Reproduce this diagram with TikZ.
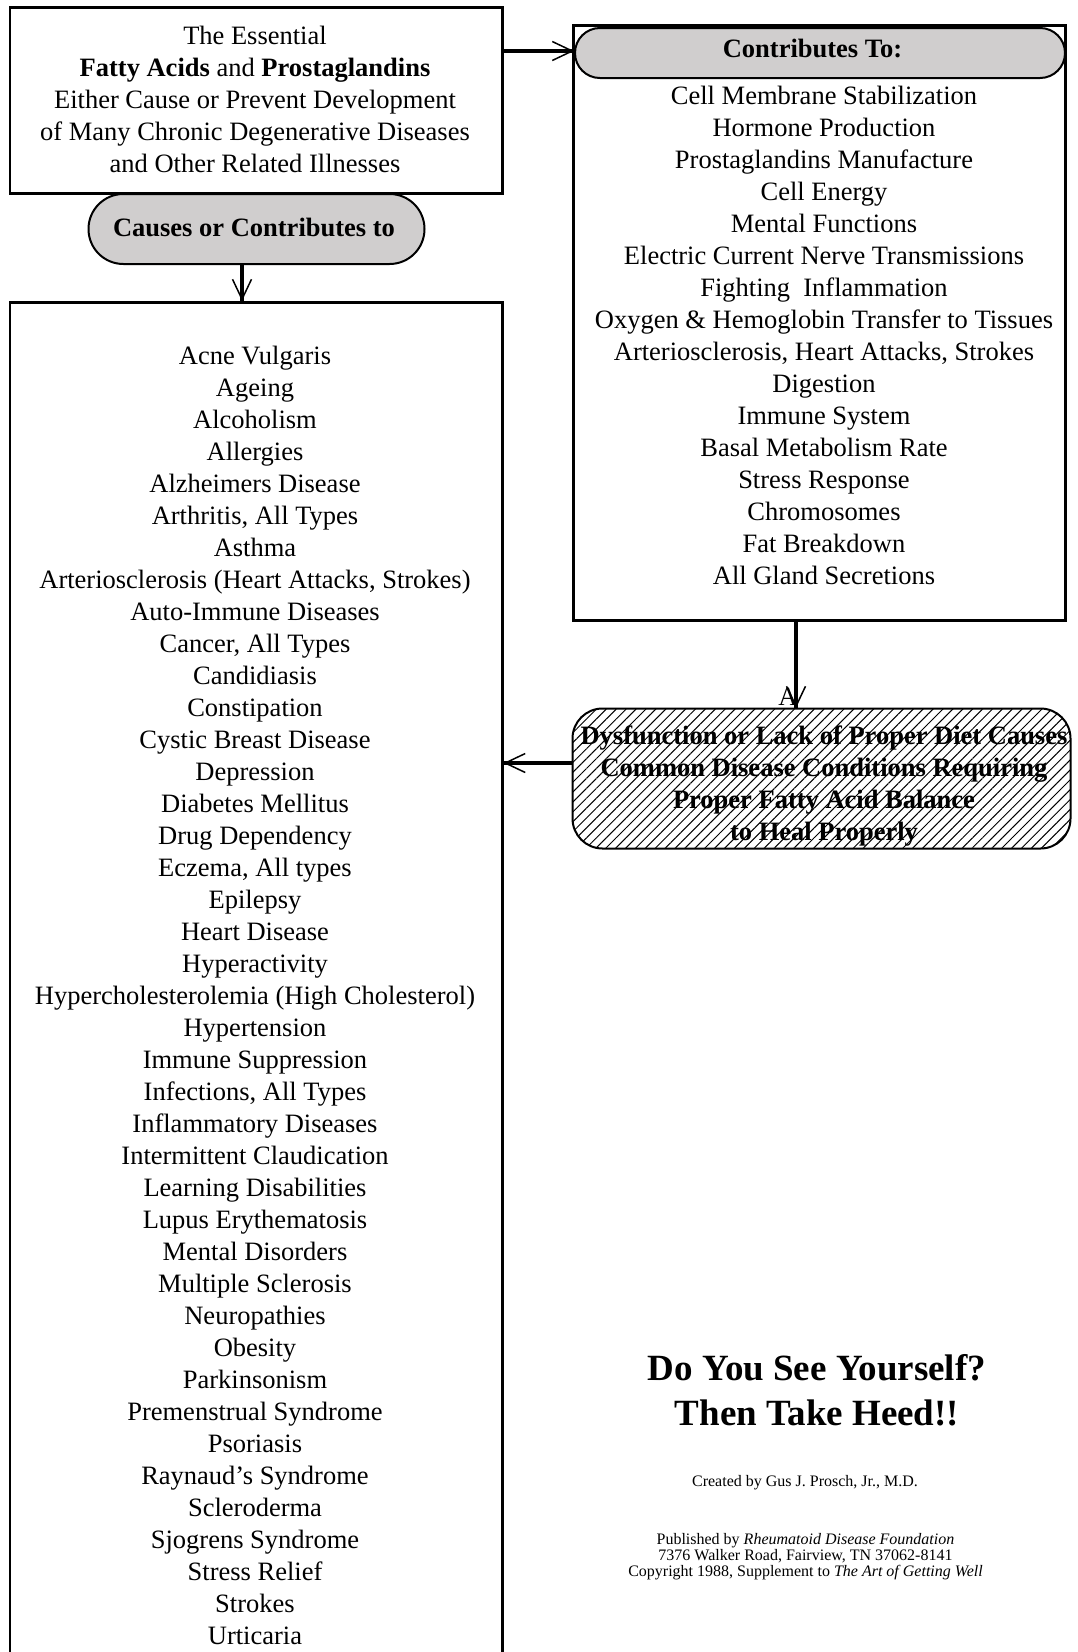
\documentclass[tikz,border=0pt]{standalone}
\usepackage{fontspec}
\setmainfont{Liberation Serif}
\usetikzlibrary{arrows.meta,patterns.meta,calc}
\definecolor{pillgray}{RGB}{208,206,206}
\begin{document}
\begin{tikzpicture}[x=1pt,y=-1pt,
  box/.style={draw, line width=2.5pt, inner sep=0pt, anchor=north west},
  pill/.style={draw, line width=2pt, fill=pillgray, inner sep=0pt, anchor=north west},
  body/.style={align=center, inner sep=0pt, font=\fontsize{26.5}{32}\selectfont},
  bodybf/.style={body, font=\fontsize{26.5}{32}\selectfont\bfseries},
  shaft/.style={line width=3.5pt},
  tipline/.style={line width=1.5pt, -{Straight Barb[length=20pt,width=19pt,line width=1.5pt]}}
]
\useasboundingbox (0,0) rectangle (1078,1652);
\begin{scope}
\clip (0,0) rectangle (1078,1652);

% boxes
\node[box, minimum width=492.5pt, minimum height=186pt] (top) at (8.5,6) {};
\node[box, minimum width=492.5pt, minimum height=1420pt] (left) at (8.5,301) {};
\node[box, minimum width=492pt, minimum height=595pt] (right) at (572,24) {};
\node[pill, minimum width=336pt, minimum height=70pt, rounded corners=34.9pt] (pillA) at (87.5,193) {};
\node[pill, minimum width=490pt, minimum height=50pt, rounded corners=24.9pt] (pillB) at (574,27) {};
\node[draw, line width=2pt, inner sep=0pt, anchor=north west, minimum width=498pt, minimum height=140pt,
      rounded corners=30pt, pattern={Lines[angle=45,distance=7pt,line width=1pt]}] (hatch) at (572,708) {};

% texts
\node[body] (toptext) at (255,99) {The Essential\\
\textbf{Fatty Acids} and \textbf{Prostaglandins}\\
Either Cause or Prevent Development\\
of Many Chronic Degenerative Diseases\\
and Other Related Illnesses};

\node[bodybf] (pillAtext) at (254,227) {Causes or Contributes to};
\node[bodybf] (pillBtext) at (812.5,48) {Contributes To:};

\node[body] (righttext) at (824,335.5) {Cell Membrane Stabilization\\
Hormone Production\\
Prostaglandins Manufacture\\
Cell Energy\\
Mental Functions\\
Electric Current Nerve Transmissions\\
Fighting\ \ Inflammation\\
Oxygen \& Hemoglobin Transfer to Tissues\\
Arteriosclerosis, Heart Attacks, Strokes\\
Digestion\\
Immune System\\
Basal Metabolism Rate\\
Stress Response\\
Chromosomes\\
Fat Breakdown\\
All Gland Secretions};

\node[bodybf] (hatchtext) at (824,786) {Dysfunction or Lack of Proper Diet Causes\\
Common Disease Conditions Requiring\\
Proper Fatty Acid Balance\\
to Heal Properly};

\node[body] (alabel) at (788,697) {A};

\node[body] (lefttext) at (255,995.5) {Acne Vulgaris\\
Ageing\\
Alcoholism\\
Allergies\\
Alzheimers Disease\\
Arthritis, All Types\\
Asthma\\
Arteriosclerosis (Heart Attacks, Strokes)\\
Auto-Immune Diseases\\
Cancer, All Types\\
Candidiasis\\
Constipation\\
Cystic Breast Disease\\
Depression\\
Diabetes Mellitus\\
Drug Dependency\\
Eczema, All types\\
Epilepsy\\
Heart Disease\\
Hyperactivity\\
Hypercholesterolemia (High Cholesterol)\\
Hypertension\\
Immune Suppression\\
Infections, All Types\\
Inflammatory Diseases\\
Intermittent Claudication\\
Learning Disabilities\\
Lupus Erythematosis\\
Mental Disorders\\
Multiple Sclerosis\\
Neuropathies\\
Obesity\\
Parkinsonism\\
Premenstrual Syndrome\\
Psoriasis\\
Raynaud's Syndrome\\
Scleroderma\\
Sjogrens Syndrome\\
Stress Relief\\
Strokes\\
Urticaria};

\node[align=center, inner sep=0pt, font=\fontsize{37}{44.5}\selectfont\bfseries] (title) at (817,1390)
  {Do You See Yourself?\\Then Take Heed!!};
\node[inner sep=0pt, font=\fontsize{16}{17.5}\selectfont] (created) at (805,1483)
  {Created by Gus J. Prosch, Jr., M.D.};
\node[align=center, inner sep=0pt, font=\fontsize{16}{16}\selectfont] (published) at (805.5,1557)
  {Published by \textit{Rheumatoid Disease Foundation}\\
   7376 Walker Road, Fairview, TN 37062-8141\\
   Copyright 1988, Supplement to \textit{The Art of Getting Well}};

% connectors
\coordinate (ax1) at (242,0);
\coordinate (ax2) at (796,0);
\coordinate (ay1) at (0,51);
\coordinate (ay3) at (0,763);

\draw[shaft] (top.east |- ay1) -- (pillB.west |- ay1);
\draw[tipline] (top.east |- ay1) -- (pillB.west |- ay1);

\draw[shaft] (pillA.south -| ax1) -- (left.north -| ax1);
\draw[tipline] (pillA.south -| ax1) -- (left.north -| ax1);

\draw[shaft] (right.south -| ax2) -- (hatch.north -| ax2);
\draw[tipline] (right.south -| ax2) -- (hatch.north -| ax2);

\draw[shaft] (hatch.west |- ay3) -- (left.east |- ay3);
\draw[tipline] (hatch.west |- ay3) -- (left.east |- ay3);
\end{scope}
\end{tikzpicture}
\end{document}
